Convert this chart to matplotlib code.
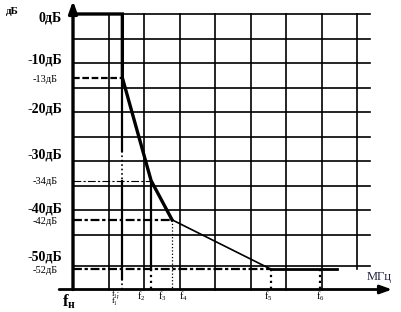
import numpy as np
import matplotlib
matplotlib.use('Agg')
from matplotlib import pyplot as plt

plt.rcParams['font.family'] = ['Liberation Serif', 'DejaVu Serif']
plt.rcParams['mathtext.fontset'] = 'custom'
plt.rcParams['mathtext.rm'] = 'Liberation Serif'
plt.rcParams['mathtext.it'] = 'Liberation Serif'
plt.rcParams['mathtext.bf'] = 'Liberation Serif:bold'

# grid levels (dB) and vertical grid positions (grid units)
grid_db = [0, -5, -10, -15, -20, -25, -30, -35, -40, -45, -50]
grid_x = [1, 2, 3, 4, 5, 6, 7, 8]
major_db = [0, -10, -20, -30, -40, -50]
major_labels = ['0дБ', '-10дБ', '-20дБ', '-30дБ', '-40дБ', '-50дБ']
minor_db = [-13, -34, -42, -52]
minor_labels = ['-13дБ', '-34дБ', '-42дБ', '-52дБ']

# corner frequencies (grid units)
f1, f2, f3, f4, f5, f6 = 1.39, 2.2, 2.79, 3.0, 5.58, 6.97
freq_x = [f1, f2, f3, f4, f5, f6]
freq_labels = ["f₁;\nf₁'", r'$\mathrm{f}_2$',
               r'$\mathrm{f}_3$', r'$\mathrm{f}_4$', r'$\mathrm{f}_5$', r'$\mathrm{f}_6$']

# response curve
curve_x = [0, f1, f1, f2, f3, f5, 7.43]
curve_db = [0, 0, -13, -34, -42, -52, -52]
y_axis = -56

# hand drawn scale is stretched below -45 dB
YB = [-80, -56, -52, -50, -45, 0, 20]
YP = [-410.7, -289.5, -269.3, -265.7, -234.5, -14, 84]
fwd = lambda y: np.interp(y, YB, YP)
inv = lambda p: np.interp(p, YP, YB)

fig = plt.figure(figsize=(4.01, 3.12), dpi=100)
ax = fig.add_axes([0, 0, 1, 1])
ax.set_yscale('function', functions=(fwd, inv))
ax.set_xlim(-73 / 35.5, (401 - 73) / 35.5)
ax.set_ylim(inv(-312), inv(0))
ax.axis('off')

# grid
for g in grid_db:
    ax.plot([0, 8.37], [g, g], color='black', lw=1.2, zorder=1)
for g in grid_x:
    ax.plot([g, g], [0, -52 if g == 8 else y_axis], color='black', lw=1.2, zorder=1)

# axes with arrows
ax.annotate('', xy=(0, 2.7), xytext=(0, y_axis),
            arrowprops=dict(arrowstyle='-|>,head_length=0.7,head_width=0.25', lw=2.4,
                            color='black', shrinkA=0, shrinkB=0, mutation_scale=10), zorder=5)
ax.annotate('', xy=(8.99, y_axis), xytext=(-0.39, y_axis),
            arrowprops=dict(arrowstyle='-|>,head_length=0.7,head_width=0.25', lw=2.0,
                            color='black', shrinkA=0, shrinkB=0, mutation_scale=10), zorder=5)

# response curve
ax.plot(curve_x[:5], curve_db[:5], color='black', lw=2.4, zorder=4, solid_joinstyle='miter')
ax.plot(curve_x[4:6], curve_db[4:6], color='black', lw=1.2, zorder=4)
ax.plot(curve_x[5:], curve_db[5:], color='black', lw=2.0, zorder=4)

# helper lines
ax.plot([0, f1], [-13, -13], color='black', lw=1.6, dashes=(3, 1.2), zorder=3)
ax.plot([0, f2], [-34, -34], color='black', lw=0.8, dashes=(7, 2, 2, 2), zorder=3)
ax.plot([0, f3], [-42, -42], color='black', lw=1.6, dashes=(4, 1.2, 1.5, 1.2), zorder=3)
ax.plot([0, f5], [-52, -52], color='black', lw=1.6, dashes=(4, 1.2, 1.5, 1.2), zorder=3)

ax.plot([f1, f1], [-13, -28], color='black', lw=1.6, zorder=3)
ax.plot([f1, f1], [-28, -34], color='black', lw=1.2, ls=':', zorder=3)
ax.plot([f1, f1], [-34, -54], color='black', lw=1.6, zorder=3)
ax.plot([f1, f1], [-54, y_axis], color='black', lw=1.2, ls=':', zorder=3)
ax.plot([f2, f2], [-34, -52], color='black', lw=1.6, zorder=3)
ax.plot([f2, f2], [-52, y_axis], color='black', lw=1.6, ls=':', zorder=3)
ax.plot([f3, f3], [-42, y_axis], color='black', lw=0.9, ls=':', zorder=3)
for f in [f5, f6]:
    ax.plot([f, f], [-52, y_axis], color='black', lw=1.6, ls=':', zorder=3)

# y labels
lab_dy = [-3, 2, 2, 4, 1, 6]
for d, lab, dy in zip(major_db, major_labels, lab_dy):
    ax.annotate(lab, xy=(-0.31, d), xytext=(0, dy), textcoords='offset points',
                ha='right', va='center', fontsize=10, fontweight='bold')
for d, lab in zip(minor_db, minor_labels):
    ax.annotate(lab, xy=(-0.42, d), xytext=(0, -1), textcoords='offset points',
                ha='right', va='center', fontsize=7.5)
ax.text(-1.72, 0.6, 'дБ', ha='center', va='center', fontsize=8, fontweight='bold')

# x labels, shifted left of their lines as in the drawing
lab_dx = [-4.5, -7, -7, 3, -2, 0]
lab_fs = [6, 7, 7, 7, 7, 7]
for f, lab, dx, fs in zip(freq_x, freq_labels, lab_dx, lab_fs):
    ax.annotate(lab, xy=(f, y_axis), xytext=(dx, 0), textcoords='offset points',
                ha='center', va='top', fontsize=fs, linespacing=0.85, multialignment='left')
ax.annotate(r'$\mathbf{f}_{\mathbf{н}}$', xy=(0, y_axis), xytext=(-3, -2.5),
            textcoords='offset points', ha='center', va='top', fontsize=12)
ax.annotate('МГц', xy=(8.5, y_axis), xytext=(3, 9), textcoords='offset points',
            ha='center', va='center', fontsize=9, color='#202040')

fig.savefig('out.png', dpi=100)
